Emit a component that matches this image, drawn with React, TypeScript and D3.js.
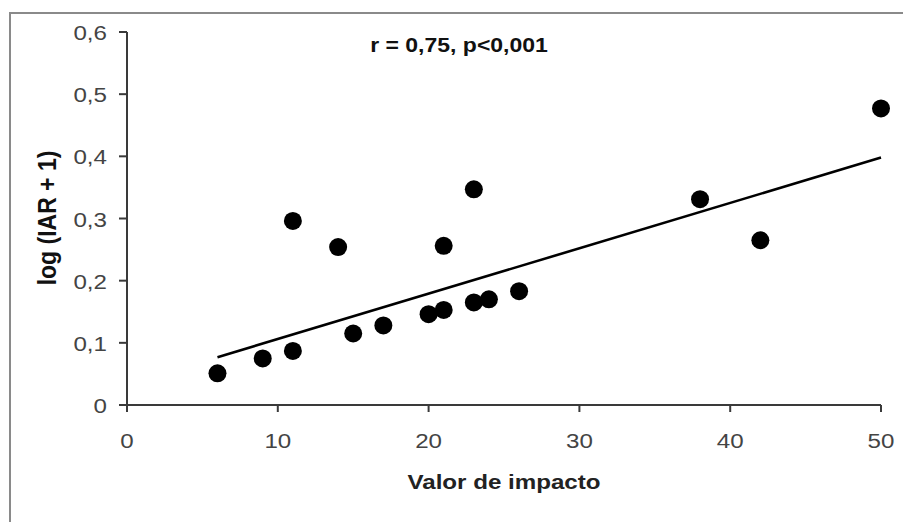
import React, { useRef, useEffect } from 'react';
import * as d3 from 'd3';

// values
const impactValues = [6, 9, 11, 11, 14, 15, 17, 20, 21, 21, 23, 23, 24, 26, 38, 42, 50];
const logIarValues = [
  0.051, 0.075, 0.087, 0.296, 0.254, 0.115, 0.128, 0.146, 0.153, 0.256, 0.165, 0.347, 0.17,
  0.183, 0.331, 0.265, 0.477,
];
const fitX = [6, 50];
const fitY = [0.077, 0.398];
const xTicks = [0, 10, 20, 30, 40, 50];
const yTicks = [0, 0.1, 0.2, 0.3, 0.4, 0.5, 0.6];
const yTickLabels = ['0', '0,1', '0,2', '0,3', '0,4', '0,5', '0,6'];
const title = 'r = 0,75, p<0,001';
const xTitle = 'Valor de impacto';
const yTitle = 'log (IAR + 1)';

const App = () => {
  const chartRef = useRef<HTMLDivElement>(null);

  useEffect(() => {
    if (!chartRef.current) return;
    d3.select(chartRef.current).html('');

    const width = 903;
    const height = 522;
    const font = 'Arial, "Liberation Sans", sans-serif';

    const svg = d3
      .select(chartRef.current)
      .append('svg')
      .attr('width', width)
      .attr('height', height)
      .style('position', 'absolute')
      .style('left', 0)
      .style('top', 0)
      .style('background', '#fff');

    const x = d3.scaleLinear().domain([0, 50]).range([127, 881]);
    const y = d3.scaleLinear().domain([0, 0.6]).range([405, 32]);

    // outer frame (runs off the right and bottom edges)
    svg
      .append('rect')
      .attr('x', 10)
      .attr('y', 13)
      .attr('width', 1000)
      .attr('height', 1000)
      .attr('fill', 'none')
      .attr('stroke', '#8a8a8a')
      .attr('stroke-width', 2);

    // text helper: the picture's text is a little wider than normal
    const label = (
      tx: number,
      ty: number,
      str: string,
      size: number,
      weight: string,
      anchor: string,
      fill: string,
      rotate = 0
    ) =>
      svg
        .append('text')
        .attr('transform', `translate(${tx},${ty}) rotate(${rotate}) scale(${rotate ? 1 : 1.15},${rotate ? 1.15 : 1})`)
        .attr('text-anchor', anchor)
        .attr('font-family', font)
        .attr('font-size', size)
        .attr('font-weight', weight)
        .attr('fill', fill)
        .text(str);

    // axes
    const axisColor = '#3a3a3a';
    svg
      .append('line')
      .attr('x1', x(0))
      .attr('x2', x(0))
      .attr('y1', y(0.6))
      .attr('y2', y(0) + 7)
      .attr('stroke', axisColor)
      .attr('stroke-width', 2);
    svg
      .append('line')
      .attr('x1', x(0) - 8)
      .attr('x2', x(50))
      .attr('y1', y(0))
      .attr('y2', y(0))
      .attr('stroke', axisColor)
      .attr('stroke-width', 2);

    yTicks.forEach((t, i) => {
      svg
        .append('line')
        .attr('x1', x(0) - 8)
        .attr('x2', x(0))
        .attr('y1', y(t))
        .attr('y2', y(t))
        .attr('stroke', axisColor)
        .attr('stroke-width', 2);
      label(107, y(t) + 8, yTickLabels[i], 21, 'normal', 'end', '#444');
    });

    xTicks.forEach(t => {
      svg
        .append('line')
        .attr('x1', x(t))
        .attr('x2', x(t))
        .attr('y1', y(0))
        .attr('y2', y(0) + 7)
        .attr('stroke', axisColor)
        .attr('stroke-width', 2);
      label(x(t), 448, String(t), 21, 'normal', 'middle', '#444');
    });

    // regression line
    const line = d3
      .line<number>()
      .x(d => x(d))
      .y((d, i) => y(fitY[i]));
    svg
      .append('path')
      .datum(fitX)
      .attr('d', line)
      .attr('fill', 'none')
      .attr('stroke', '#000')
      .attr('stroke-width', 2.6);

    // points
    svg
      .append('g')
      .selectAll('circle')
      .data(impactValues)
      .join('circle')
      .attr('cx', d => x(d))
      .attr('cy', (d, i) => y(logIarValues[i]))
      .attr('r', 9)
      .attr('fill', '#000');

    // titles
    label(459, 52, title, 20, 'bold', 'middle', '#111');
    label(504, 489, xTitle, 21, 'bold', 'middle', '#222');
    label(56, 218, yTitle, 23, 'bold', 'middle', '#111', -90);
  }, []);

  return <div ref={chartRef} />;
};

export default App;
